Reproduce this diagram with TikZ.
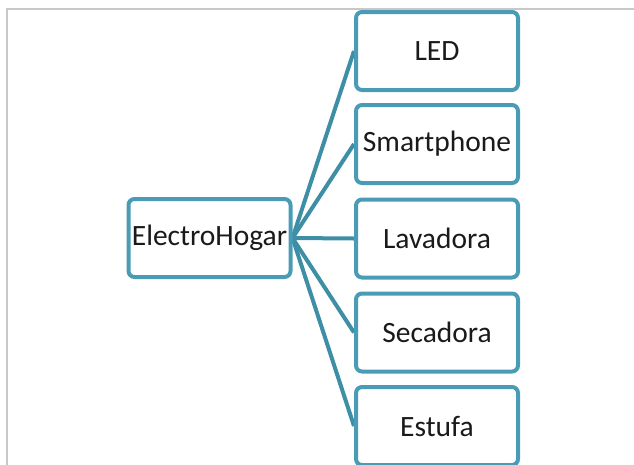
\documentclass[tikz,border=0pt]{standalone}
\usepackage{fontspec}
\setmainfont{Carlito}
\usetikzlibrary{backgrounds}
\definecolor{boxblue}{RGB}{74,156,182}
\definecolor{linkblue}{RGB}{62,142,165}
\definecolor{framegray}{RGB}{200,200,200}
\definecolor{txt}{RGB}{26,26,26}
\tikzset{
  itembox/.style={draw=boxblue, line width=4pt, rounded corners=6pt, fill=white,
    minimum width=162pt, minimum height=78pt, inner sep=0pt,
    font=\fontsize{29.5}{33}\selectfont, text=txt},
  link/.style={draw=linkblue, line width=4pt}
}
\begin{document}
\begin{tikzpicture}[x=1pt,y=-1pt]
\useasboundingbox (0,0) rectangle (634,464);
\clip (0,0) rectangle (634,464);
\draw[framegray, line width=2pt] (7,480) -- (7,9) -- (650,9);
\node[itembox] (e) at (209.5,238) {ElectroHogar};
\node[itembox] (led) at (437,51) {LED};
\node[itembox] (sm) at (437,144) {Smartphone};
\node[itembox] (la) at (437,238.5) {Lavadora};
\node[itembox] (se) at (437,332.5) {Secadora};
\node[itembox] (es) at (437,426) {Estufa};
\begin{scope}[on background layer]
\foreach \t in {led,sm,la,se,es}
  \draw[link] (e.east) -- (\t.west);
\end{scope}
\end{tikzpicture}
\end{document}
